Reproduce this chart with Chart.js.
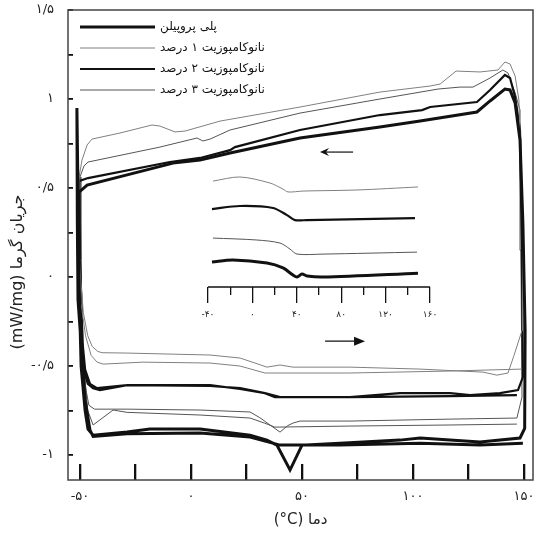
<!DOCTYPE html>
<html>
<head>
<meta charset="utf-8">
<script src="https://cdn.jsdelivr.net/npm/chart.js@4.4.1/dist/chart.umd.min.js"></script>
<style>
  html, body { margin: 0; background: #fff; }
</style>
</head>
<body>
<canvas id="c" width="537" height="536"></canvas>
<script>
// series names / styles (legend order)
const seriesNames = ['پلی پروپیلن', 'نانوکامپوزیت ۱ درصد', 'نانوکامپوزیت ۲ درصد', 'نانوکامپوزیت ۳ درصد'];
const seriesColors = ['#111', '#808080', '#111', '#555'];
const seriesWidths = [3, 1, 2.2, 1];

// [temperature °C, heat flow mW/mg] - heating 1, cooling, heating 2
const ppHeat1 = [[-50.9,0.472],[-50.5,0.0],[-49.5,-0.5],[-47.7,-0.75],[-46.4,-0.854],[-44.1,-0.888],[-28.8,-0.871],[-18.5,-0.854],[4.1,-0.854],[26.6,-0.888],[34.2,-0.916],[38.7,-0.944],[44.6,-1.084],[50,-0.944],[67.1,-0.933],[94.1,-0.916],[103.2,-0.904],[130.2,-0.927],[148.2,-0.904],[150.3,-0.85],[150.5,-0.3],[149.5,0.3],[148.2,0.77]];
const ppCool = [[146,0.978],[143.7,1.051],[141.4,1.056],[134.7,0.989],[128.8,0.927],[103.2,0.876],[85.1,0.843],[49.1,0.781],[17.6,0.697],[4.1,0.657],[-8.1,0.64],[-46.8,0.517],[-50.9,0.472]];
const ppHeat2 = [[-51.4,0.949],[-51.2,0.3],[-50.9,-0.129],[-47.7,-0.691],[-45.5,-0.86],[-44.1,-0.895],[-28.8,-0.88],[4.1,-0.876],[26.6,-0.899],[40.1,-0.944],[50,-0.944],[67.1,-0.944],[103.2,-0.933],[130.2,-0.944],[149.5,-0.933]];

const pct1Heat1 = [[-50.5,0.55],[-50.1,0.05],[-48.5,-0.2],[-46.5,-0.33],[-44.5,-0.39],[-42,-0.418],[-40,-0.425],[-28.8,-0.427],[8.6,-0.438],[22.1,-0.455],[28.8,-0.483],[34.2,-0.506],[40.1,-0.494],[45.9,-0.506],[71.6,-0.506],[103.2,-0.517],[131.5,-0.534],[137.8,-0.551],[142.8,-0.539],[145.5,-0.44],[149.1,-0.3],[149.3,0.3],[147.7,0.994]];
const pct1Cool = [[146,1.129],[143.7,1.197],[141.4,1.208],[138.3,1.163],[130.2,1.152],[119.4,1.157],[112.2,1.084],[107.7,1.073],[85.1,1.039],[49.1,0.955],[13.1,0.876],[-2.7,0.82],[-7.2,0.815],[-14,0.848],[-17.6,0.854],[-32,0.809],[-44.6,0.775],[-46.8,0.742],[-49.1,0.657],[-50.5,0.556]];
const pct1Heat2 = [[-50.3,0.1],[-49.5,-0.15],[-47.5,-0.33],[-45,-0.44],[-42.3,-0.478],[-39.6,-0.489],[-21.6,-0.478],[8.6,-0.483],[22.1,-0.5],[33.3,-0.539],[71.6,-0.539],[116.7,-0.528],[149.1,-0.517]];

const pct2Heat1 = [[-50.5,0.539],[-50,0.1],[-49,-0.3],[-48.6,-0.506],[-46.5,-0.6],[-44.1,-0.624],[-41,-0.635],[-28.8,-0.607],[8.6,-0.607],[22.1,-0.629],[33.3,-0.652],[37.8,-0.674],[71.6,-0.674],[94.1,-0.652],[116.7,-0.652],[125.7,-0.663],[139.2,-0.652],[147.3,-0.635],[149.5,-0.562],[149,0.2],[148.2,0.826]];
const pct2Cool = [[146,1.011],[143.7,1.118],[141.4,1.135],[134.7,1.051],[128.8,0.983],[107.7,0.955],[104.1,0.938],[85.1,0.91],[49.1,0.826],[19.8,0.73],[17.6,0.713],[4.1,0.669],[-9.5,0.646],[-46.4,0.556],[-50.5,0.539]];
const pct2Heat2 = [[-50,0.1],[-49,-0.35],[-47.7,-0.52],[-45.5,-0.6],[-42.3,-0.624],[-28.8,-0.607],[8.6,-0.612],[22.1,-0.624],[33.3,-0.652],[40.1,-0.674],[71.6,-0.674],[116.7,-0.669],[146.8,-0.663]];

const pct3Heat1 = [[-50,0.56],[-49.5,0.0],[-48.6,-0.4],[-47.5,-0.62],[-46,-0.72],[-43.5,-0.742],[-28.8,-0.742],[4.1,-0.747],[26.6,-0.758],[31,-0.79],[35.6,-0.831],[40.1,-0.871],[43.5,-0.835],[46,-0.82],[49.1,-0.809],[71.6,-0.809],[116.7,-0.798],[146.8,-0.792],[149.1,-0.674],[148.6,0.15],[148.2,0.938]];
const pct3Cool = [[146,1.034],[142.8,1.146],[140.5,1.163],[134.7,1.118],[127,1.067],[121.2,1.067],[111.3,1.056],[85.1,1.0],[49.1,0.921],[17.6,0.826],[8.6,0.775],[5.4,0.764],[2.7,0.781],[-14,0.73],[-46.4,0.646],[-48.2,0.624],[-50,0.562]];
const pct3Heat2 = [[-49.6,0.1],[-48.6,-0.45],[-46.5,-0.75],[-44.1,-0.831],[-35.1,-0.747],[-28.8,-0.76],[4.1,-0.775],[26.6,-0.792],[33,-0.82],[37.8,-0.843],[71.6,-0.837],[116.7,-0.831],[146.8,-0.826]];

// inset (second temperature axis)
const inset1 = [[-35.5,0.539],[-11.2,0.562],[15.9,0.528],[27.6,0.494],[32.1,0.478],[45.6,0.483],[94.2,0.489],[149.2,0.506]];
const inset2 = [[-36.4,0.382],[-11.2,0.399],[18.6,0.388],[31.2,0.348],[38.4,0.32],[49.2,0.32],[146.5,0.331]];
const inset3 = [[-35.5,0.219],[4.1,0.208],[24.9,0.191],[33.9,0.157],[40.2,0.129],[63.6,0.129],[148.3,0.14]];
const inset4 = [[-36.4,0.084],[-17.5,0.096],[13.2,0.079],[27.6,0.051],[36.6,0.011],[40.2,0.0],[44.7,0.017],[49.2,0.006],[63.6,0.0],[149.2,0.022]];
const insetAxisLine = [[-40,-0.056],[160,-0.056]];

// ticks
const xTickValues = [-50,-25,0,25,50,75,100,125,150];
const xTickLabels = ['-۵۰','','۰','','۵۰','','۱۰۰','','۱۵۰'];
const yTickValues = [-1,-0.75,-0.5,-0.25,0,0.25,0.5,0.75,1,1.25,1.5];
const yTickLabels = ['-۱','','-۰/۵','','۰','','۰/۵','','۱','','۱/۵'];
const insetTickValues = [-40,0,40,80,120,160];
const insetTickLabels = ['-۴۰','۰','۴۰','۸۰','۱۲۰','۱۶۰'];
const insetMinorValues = [-20,20,60,100,140];

const xTitle = '(°C) دما';
const yTitle = 'جریان گرما (mW/mg)';

const pts = a => a.map(p => ({x: p[0], y: p[1]}));
const loops = [
  ppHeat1.concat(ppCool, ppHeat2),
  pct1Heat1.concat(pct1Cool, pct1Heat2),
  pct2Heat1.concat(pct2Cool, pct2Heat2),
  pct3Heat1.concat(pct3Cool, pct3Heat2)
];
const insets = [inset4, inset1, inset2, inset3];

const datasets = [];
loops.forEach((d, i) => datasets.push({
  label: seriesNames[i], data: pts(d), xAxisID: 'x', yAxisID: 'y',
  borderColor: seriesColors[i], borderWidth: seriesWidths[i], pointRadius: 0, tension: 0, fill: false
}));
insets.forEach((d, i) => datasets.push({
  label: 'inset ' + i, data: pts(d), xAxisID: 'x2', yAxisID: 'y',
  borderColor: seriesColors[i], borderWidth: seriesWidths[i], pointRadius: 0, tension: 0.3, fill: false
}));
datasets.push({label: 'inset axis', data: pts(insetAxisLine), xAxisID: 'x2', yAxisID: 'y',
  borderColor: '#111', borderWidth: 1.3, pointRadius: 0});

const X_MIN = -55.41, X_MAX = 154.05, Y_MIN = -1.14, Y_MAX = 1.5, X2_MIN = -166.1, X2_MAX = 252.8;
const tickFont = {family: 'DejaVu Sans', size: 13};

const decor = {
  id: 'decor',
  afterDraw(chart) {
    const {ctx, chartArea: ca, scales} = chart;
    ctx.save();
    ctx.strokeStyle = '#444';
    ctx.lineWidth = 1.5;
    ctx.strokeRect(ca.left, ca.top, ca.right - ca.left, ca.bottom - ca.top);

    // legend
    ctx.font = '12px "DejaVu Sans"';
    ctx.fillStyle = '#111';
    ctx.textBaseline = 'middle';
    ctx.textAlign = 'left';
    ctx.direction = 'rtl';
    for (let i = 0; i < 4; i++) {
      const y = ca.top + 17 + i * 21;
      ctx.strokeStyle = seriesColors[i];
      ctx.lineWidth = seriesWidths[i];
      ctx.beginPath(); ctx.moveTo(ca.left + 12, y); ctx.lineTo(ca.left + 87, y); ctx.stroke();
      ctx.fillText(seriesNames[i], ca.left + 92, y);
    }

    // arrows
    const ax = scales.x, ay = scales.y;
    ctx.strokeStyle = '#111'; ctx.fillStyle = '#111'; ctx.lineWidth = 1.2;
    let y1 = ay.getPixelForValue(0.702), t1 = ax.getPixelForValue(58.1), e1 = ax.getPixelForValue(73);
    ctx.beginPath(); ctx.moveTo(e1, y1); ctx.lineTo(t1 + 4, y1); ctx.stroke();
    ctx.beginPath(); ctx.moveTo(t1, y1); ctx.lineTo(t1 + 9, y1 - 4); ctx.lineTo(t1 + 6, y1); ctx.lineTo(t1 + 9, y1 + 4); ctx.closePath(); ctx.fill();
    let y2 = ay.getPixelForValue(-0.36), s2 = ax.getPixelForValue(60.4), t2 = ax.getPixelForValue(78.4);
    ctx.beginPath(); ctx.moveTo(s2, y2); ctx.lineTo(t2 - 8, y2); ctx.stroke();
    ctx.beginPath(); ctx.moveTo(t2, y2); ctx.lineTo(t2 - 11, y2 - 4.5); ctx.lineTo(t2 - 11, y2 + 4.5); ctx.closePath(); ctx.fill();

    // axis titles
    ctx.fillStyle = '#222';
    ctx.textAlign = 'center';
    ctx.font = '15px "DejaVu Sans"';
    ctx.direction = 'ltr';
    ctx.fillText(xTitle, (ca.left + ca.right) / 2, ca.bottom + 40);
    ctx.font = '16px "DejaVu Sans"';
    ctx.translate(18, 272);
    ctx.rotate(-Math.PI / 2);
    ctx.direction = 'rtl';
    ctx.fillText(yTitle, 0, 0);
    ctx.restore();
  }
};

// helper for axes that only carry tick marks or only carry labels
const tickMarks = (axis, min, max, pos, values, len, width) => ({
  type: 'linear', axis, min, max, position: pos,
  afterBuildTicks: s => { s.ticks = values.map(v => ({value: v})); },
  border: {display: false},
  grid: {drawOnChartArea: false, tickLength: len, lineWidth: width, color: '#111'},
  ticks: {display: false}
});
const tickLabels = (axis, min, max, pos, values, labels, font) => ({
  type: 'linear', axis, min, max, position: pos,
  afterBuildTicks: s => { s.ticks = values.map(v => ({value: v})); },
  border: {display: false},
  grid: {display: false, drawTicks: false},
  ticks: {padding: 0, font, color: '#222', maxRotation: 0, autoSkip: false,
    callback: (v, i) => labels[i]}
});

new Chart(document.getElementById('c'), {
  type: 'line',
  data: {datasets},
  options: {
    responsive: false,
    animation: false,
    events: [],
    layout: {padding: {left: 68, right: 4, top: 10, bottom: 56}},
    plugins: {legend: {display: false}, tooltip: {enabled: false}},
    scales: {
      x: {type: 'linear', min: X_MIN, max: X_MAX, display: false},
      y: {type: 'linear', min: Y_MIN, max: Y_MAX, display: false},
      x2: {type: 'linear', min: X2_MIN, max: X2_MAX, display: false},
      xt: tickMarks('x', X_MIN, X_MAX, {y: -1.0506}, xTickValues, 16, 2.3),
      xl: tickLabels('x', X_MIN, X_MAX, {y: -1.191}, xTickValues, xTickLabels, tickFont),
      yt: tickMarks('y', Y_MIN, Y_MAX, {x: -53.15}, yTickValues, 5, 1.8),
      yl: tickLabels('y', Y_MIN, Y_MAX, {x: -61.7}, yTickValues, yTickLabels, tickFont),
      xi: tickMarks('x', X2_MIN, X2_MAX, {y: -0.056}, insetTickValues, 16, 1.3),
      xim: tickMarks('x', X2_MIN, X2_MAX, {y: -0.056}, insetMinorValues, 8, 1.3),
      xil: tickLabels('x', X2_MIN, X2_MAX, {y: -0.182}, insetTickValues, insetTickLabels, {family: 'DejaVu Sans', size: 9})
    }
  },
  plugins: [decor]
});
</script>
</body>
</html>
